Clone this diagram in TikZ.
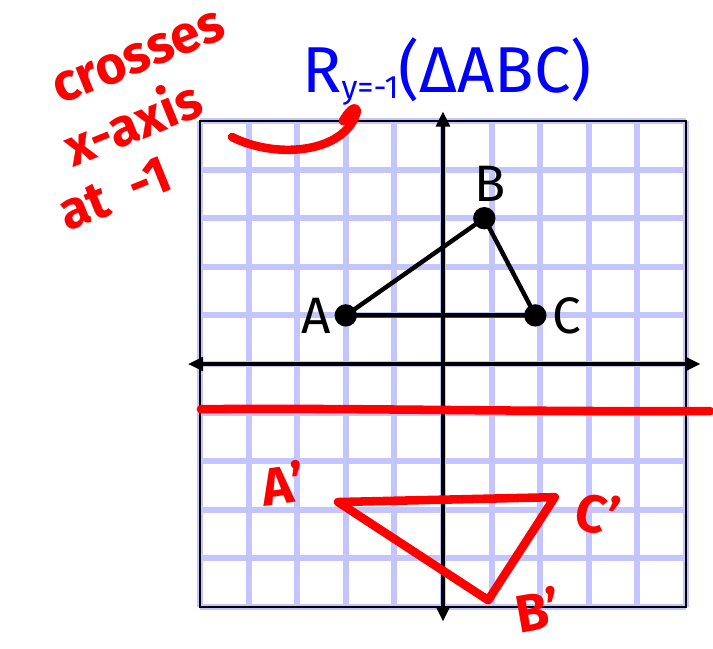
\documentclass[tikz,border=0pt]{standalone}
\usepackage{fontspec}
\setmainfont{Fira Sans}
\usepackage{xcolor}
\usetikzlibrary{positioning, arrows.meta, calc}

\definecolor{gridblue}{RGB}{196,196,255}

\begin{document}
\begin{tikzpicture}[
        % Style for the light blue grid lines
        gridline/.style={
            line width=3.5pt,
            color=gridblue
        },
        % Style for the coordinate axes
        axisline/.style={
            line width=2.4pt,
            {Triangle[length=9pt,width=8pt]}-{Triangle[length=9pt,width=8pt]}
        },
        % Style for the points of the triangle
        ptdot/.style={
            circle,
            fill=black,
            minimum size=0.46cm,
            inner sep=0pt
        },
        % Style for the point labels
        ptlabel/.style={
            inner sep=0pt,
            font=\fontsize{30}{30}\selectfont
        },
        % Style for the red marker strokes
        redpen/.style={
            red,
            line width=5pt,
            line cap=round,
            line join=round
        },
        % Style for the red handwriting
        redtext/.style={
            red,
            inner sep=0pt,
            font=\fontsize{31}{31}\selectfont\bfseries
        }
    ]

    \useasboundingbox (-9.115,-5.844) rectangle (5.556,7.49);

    % ==========================================
    % GRID AND AXES
    % ==========================================
    \foreach \i in {-5,...,5} {
        \draw[gridline] (\i,-5) -- (\i,5);
        \draw[gridline] (-5,\i) -- (5,\i);
    }
    \draw[line width=1.2pt] (-5,-5) rectangle (5,5);

    \coordinate (xleft) at (-5.25,0);
    \coordinate (xright) at (5.3,0);
    \coordinate (ytop) at (0,5.2);
    \coordinate (ybot) at (0,-5.3);
    \draw[axisline] (xleft) -- (xright);
    \draw[axisline] (ybot) -- (ytop);

    % ==========================================
    % TRIANGLE ABC
    % ==========================================
    \node[ptdot] (A) at (-2,1) {};
    \node[ptdot] (B) at (0.85,3) {};
    \node[ptdot] (C) at (1.9,1) {};
    \draw[line width=2.6pt] (A.center) -- (B.center) -- (C.center) -- cycle;

    \node[ptlabel, left=0.06cm of A] (labA) {A};
    \node[ptlabel, above=0.1cm of B, xshift=0.12cm] (labB) {B};
    \node[ptlabel, right=0.1cm of C] (labC) {C};

    % ==========================================
    % TITLE
    % ==========================================
    \node[blue, anchor=base, inner sep=0pt, font=\fontsize{38}{38}\selectfont] (title) at (0.08,5.58)
        {R\raisebox{-0.12cm}{\fontsize{19}{19}\selectfont y=-1}(ΔABC)};

    % ==========================================
    % RED NOTES
    % ==========================================
    \node[redtext, rotate=22] (note1) at (-6.25,6.3) {crosses};
    \node[redtext, rotate=22] (note2) at (-6.4,5.0) {x-axis};
    \node[redtext, rotate=22] (note3) at (-6.75,3.5) {at \ -1};

    \coordinate (arrS) at (-4.34,4.67);
    \coordinate (arrE) at (-1.77,5.2);
    \coordinate (arrH) at (-2.06,5.0);
    \draw[redpen] (arrS) .. controls (-3.4,4.2) and (-2.0,4.35) .. (arrE)
        .. controls (-1.8,5.35) and (-1.95,5.2) .. (arrH);

    % line of reflection y = -1
    \coordinate (rleft) at (-4.98,-0.93);
    \coordinate (rright) at (5.5,-0.97);
    \draw[redpen] (rleft) .. controls (-2,-0.9) and (1,-0.98) .. (rright);

    % reflected triangle
    \coordinate (Ar) at (-2.16,-2.84);
    \coordinate (Cr) at (2.30,-2.74);
    \coordinate (Br) at (0.93,-4.86);
    \draw[redpen] (Ar) -- (Cr) -- (Br) -- cycle;

    \node[redtext, rotate=8] (labAr) at (-3.29,-2.45) {A'};
    \node[redtext, rotate=-12] (labCr) at (3.19,-3.07) {C'};
    \node[redtext, rotate=10] (labBr) at (1.95,-5.05) {B'};
\end{tikzpicture}
\end{document}
